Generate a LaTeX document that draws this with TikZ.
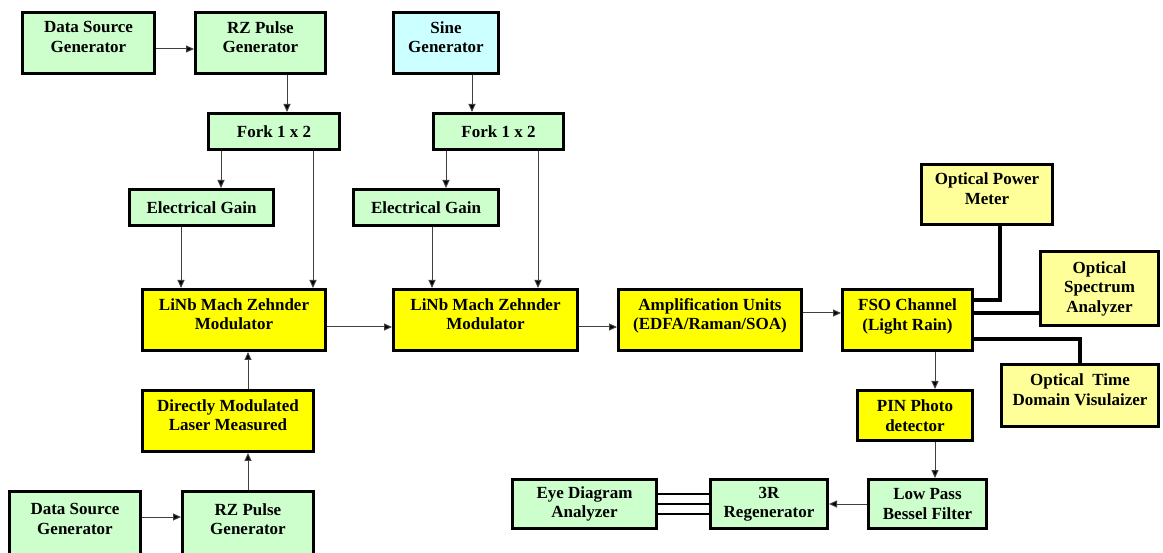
\documentclass[tikz,border=0pt]{standalone}
\usepackage{fontspec}
\setmainfont{Liberation Serif}
\usetikzlibrary{arrows.meta}
\definecolor{mint}{HTML}{CCFFCC}
\definecolor{lemon}{HTML}{FFFF00}
\definecolor{cream}{HTML}{FFFF99}
\definecolor{skyc}{HTML}{CCFFFF}

\begin{document}
\begin{tikzpicture}[x=1pt,y=-1pt,
  box/.style={draw,line width=3pt,align=center,inner sep=2pt,
    font=\bfseries\fontsize{17}{19.5}\selectfont},
  hi/.style={text depth=12pt},
  arr/.style={draw=black!75,line width=1pt,-{Triangle[length=8pt,width=7pt,fill=black]}},
  fat/.style={line width=3.5pt}]
\useasboundingbox (0,0) rectangle (1163,553);

% sources
\node[box,fill=mint,minimum width=132pt,minimum height=61pt,hi] (ds1) at (88.5,43) {Data Source\\Generator};
\node[box,fill=mint,minimum width=130pt,minimum height=61pt,hi] (rz1) at (260.5,43) {RZ Pulse\\Generator};
\node[box,fill=skyc,minimum width=105pt,minimum height=61pt,hi] (sine) at (446,43) {Sine\\Generator};

\node[box,fill=mint,minimum width=131pt,minimum height=36pt] (fork1) at (274,131.5) {Fork 1 x 2};
\node[box,fill=mint,minimum width=130pt,minimum height=36pt] (fork2) at (498.5,131.5) {Fork 1 x 2};
\node[box,fill=mint,minimum width=144pt,minimum height=36pt] (eg1) at (201.5,207.5) {Electrical Gain};
\node[box,fill=mint,minimum width=145pt,minimum height=36pt] (eg2) at (426,207.5) {Electrical Gain};

% main optical line
\node[box,fill=lemon,minimum width=183pt,minimum height=61pt,hi] (mz1) at (234,320) {LiNb Mach Zehnder\\Modulator};
\node[box,fill=lemon,minimum width=184pt,minimum height=61pt,hi] (mz2) at (485.5,320) {LiNb Mach Zehnder\\Modulator};
\node[box,fill=lemon,minimum width=183pt,minimum height=61pt,hi] (amp) at (710,320) {Amplification Units\\(EDFA/Raman/SOA)};
\node[box,fill=lemon,minimum width=130pt,minimum height=61pt,hi] (fso) at (907.5,320.5) {FSO Channel\\(Light Rain)};

% instruments
\node[box,fill=cream,minimum width=131pt,minimum height=60pt,hi] (opm) at (987,194.5) {Optical Power\\Meter};
\node[box,fill=cream,minimum width=118pt,minimum height=74pt] (osa) at (1099.5,288.5) {Optical\\Spectrum\\Analyzer};
\node[box,fill=cream,minimum width=157pt,minimum height=62pt,hi] (otdv) at (1080,395.5) {Optical\ \ Time\\Domain Visulaizer};

% receiver
\node[box,fill=lemon,minimum width=115pt,minimum height=50pt] (pin) at (915,415.5) {PIN Photo\\detector};
\node[box,fill=mint,minimum width=118pt,minimum height=49pt] (lpbf) at (927.5,504) {Low Pass\\Bessel Filter};
\node[box,fill=mint,minimum width=117pt,minimum height=49pt] (rgen) at (769,504) {3R\\Regenerator};
\node[box,fill=mint,minimum width=144pt,minimum height=49pt] (eye) at (584.5,504) {Eye Diagram\\Analyzer};

% laser branch
\node[box,fill=lemon,minimum width=171pt,minimum height=61pt,hi] (dml) at (228,421) {Directly Modulated\\Laser Measured};
\node[box,fill=mint,minimum width=131pt,minimum height=67pt,hi] (ds2) at (75,525) {Data Source\\Generator};
\node[box,fill=mint,minimum width=131pt,minimum height=67pt,hi] (rz2) at (248,525) {RZ Pulse\\Generator};

% electrical paths
\draw[arr] ([yshift=-6pt]ds1.east) -- ([yshift=-6pt]rz1.west);
\coordinate (p1) at ([xshift=26.5pt]rz1.south);
\draw[arr] (p1) -- (p1 |- fork1.north);
\coordinate (p2) at ([xshift=14pt]fork1.south west);
\draw[arr] (p2) -- (p2 |- eg1.north);
\coordinate (p3) at ([xshift=-28pt]fork1.south east);
\draw[arr] (p3) -- (p3 |- mz1.north);
\coordinate (p4) at ([xshift=40pt]mz1.north west);
\draw[arr] (p4 |- eg1.south) -- (p4);

\coordinate (s1) at ([xshift=26pt]sine.south);
\draw[arr] (s1) -- (s1 |- fork2.north);
\coordinate (s2) at ([xshift=14pt]fork2.south west);
\draw[arr] (s2) -- (s2 |- eg2.north);
\coordinate (s3) at ([xshift=-27pt]fork2.south east);
\draw[arr] (s3) -- (s3 |- mz2.north);
\coordinate (s4) at ([xshift=40pt]mz2.north west);
\draw[arr] (s4 |- eg2.south) -- (s4);

\draw[arr] ([yshift=-7pt]mz1.east) -- ([yshift=-7pt]mz2.west);
\draw[arr] ([yshift=-7pt]mz2.east) -- ([yshift=-7pt]amp.west);
\coordinate (a1) at ([yshift=7pt]amp.east);
\draw[arr] (a1) -- (a1 -| fso.west);

\draw[arr] ([yshift=8pt]ds2.east) -- ([yshift=8pt]rz2.west);
\draw[arr] (rz2.north) -- (rz2.north |- dml.south);
\draw[arr] (rz2.north |- dml.north) -- (rz2.north |- mz1.south);

% monitors
\coordinate (q1) at ([yshift=20.5pt]fso.east);
\coordinate (q2) at ([xshift=13pt]opm.south);
\draw[fat] (q1) -| (q2);
\coordinate (q3) at ([yshift=7.5pt]fso.east);
\draw[fat] (q3) -- (q3 -| osa.west);
\coordinate (q4) at ([yshift=-18.5pt]fso.east);
\draw[fat] (q4) -| (otdv.north);

% detection
\coordinate (r1) at ([xshift=27.5pt]fso.south);
\draw[arr] (r1) -- (r1 |- pin.north);
\draw[arr] (r1 |- pin.south) -- (r1 |- lpbf.north);
\draw[arr] (lpbf.west) -- (rgen.east);
\foreach \d in {-10,0,10} {
\draw[line width=2.8pt] ([yshift=\d pt]rgen.west) -- ([yshift=\d pt]eye.east);
}

\end{tikzpicture}
\end{document}
